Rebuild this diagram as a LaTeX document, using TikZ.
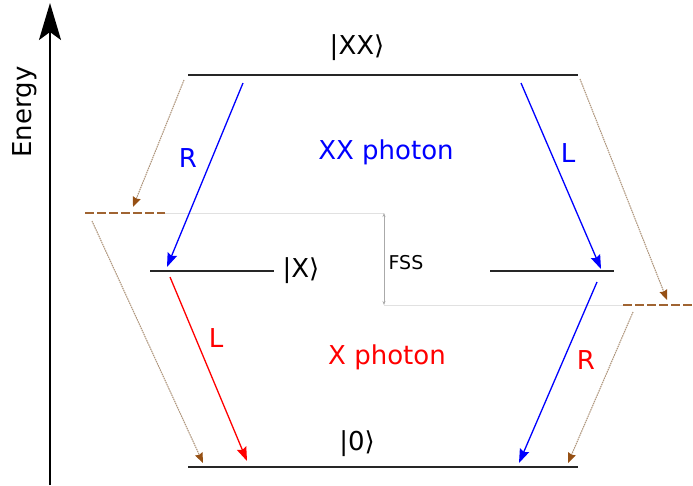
\documentclass[tikz,border=0pt]{standalone}
\usepackage{fontspec}
\setmainfont{DejaVu Sans}
\usetikzlibrary{arrows.meta}

\definecolor{tanline}{RGB}{175,150,125}
\definecolor{brownhead}{RGB}{150,80,20}
\definecolor{dashbrown}{RGB}{160,100,50}
\definecolor{fssline}{RGB}{225,225,225}
\definecolor{fssarrow}{RGB}{170,170,170}

\begin{document}
\begin{tikzpicture}[
    x=1pt, y=-1pt,
    font=\fontsize{26}{30}\selectfont,
    level/.style={
        draw,
        line width=2pt,
        color=black!85
    },
    axis/.style={
        draw,
        line width=2.3pt,
        -{Stealth[length=37pt,width=22pt,inset=8pt]}
    },
    photon/.style={
        draw,
        line width=1.3pt,
        -{Stealth[length=14pt,width=10pt,inset=2pt]}
    },
    decay/.style={
        draw,
        line width=1.1pt,
        dash pattern=on 1.5pt off 0.8pt,
        color=tanline,
        -{Stealth[length=10pt,width=8pt,inset=1pt,color=brownhead]}
    },
    virtual/.style={
        draw,
        line width=2pt,
        dash pattern=on 9pt off 3pt,
        color=dashbrown
    },
    guide/.style={
        draw,
        line width=1pt,
        color=fssline
    },
    split/.style={
        draw,
        line width=1pt,
        color=fssarrow,
        {Stealth[length=4pt,width=3pt]}-{Stealth[length=4pt,width=3pt]}
    }
]
    \useasboundingbox (0,0) rectangle (693,485);

    % --- Energy axis ---
    \coordinate (ebot) at (50,485);
    \coordinate (etop) at (50,3);
    \path [axis] (ebot) -- (etop);
    \node [rotate=90] (energy) at (25,112) {Energy};

    % --- Levels ---
    \coordinate (xxL) at (188,75);
    \coordinate (xxR) at (578,75);
    \coordinate (xaL) at (150,271);
    \coordinate (xaR) at (274,271);
    \coordinate (xbL) at (490,271);
    \coordinate (xbR) at (614,271);
    \coordinate (gL) at (188,467);
    \coordinate (gR) at (578,467);
    \path [level] (xxL) -- (xxR);
    \path [level] (xaL) -- (xaR);
    \path [level] (xbL) -- (xbR);
    \path [level] (gL) -- (gR);

    \node (xxlab) at (357,48) {|XX⟩};
    \node [anchor=west] (xlab) at (279,271) {|X⟩};
    \node (glab) at (357,444) {|0⟩};

    % virtual levels (dashed) and FSS guides
    \coordinate (vaL) at (85,213);
    \coordinate (vaR) at (165,213);
    \coordinate (vbL) at (623,305);
    \coordinate (vbR) at (693,305);
    \coordinate (fssTop) at (384,213);
    \coordinate (fssBot) at (384,305);
    \path [guide] (vaR) -- (fssTop);
    \path [guide] (fssBot) -- (vbL);
    \path [split] (fssTop) -- (fssBot);
    \path [virtual] (vaL) -- (vaR);
    \path [virtual] (vbL) -- (vbR);
    \node [font=\fontsize{19}{22}\selectfont] (fss) at (406,263) {FSS};

    % --- Photon transitions ---
    \coordinate (r1s) at (243,83);
    \coordinate (r1e) at (167,267);
    \coordinate (l1s) at (521,83);
    \coordinate (l1e) at (601,269);
    \coordinate (l2s) at (170,277);
    \coordinate (l2e) at (247,461);
    \coordinate (r2s) at (597,282);
    \coordinate (r2e) at (519,463);
    \path [photon, blue] (r1s) -- (r1e);
    \path [photon, blue] (l1s) -- (l1e);
    \path [photon, red] (l2s) -- (l2e);
    \path [photon, blue] (r2s) -- (r2e);

    \node [blue] (rxx) at (188,158) {R};
    \node [blue] (lxx) at (568,153) {L};
    \node [blue] (xxph) at (386,152) {XX photon};
    \node [red] (lx) at (216,338) {L};
    \node [red] (rx) at (586,360) {R};
    \node [red] (xph) at (387,357) {X photon};

    % --- Thin decay paths ---
    \coordinate (d1s) at (184,80);
    \coordinate (d1e) at (133,207);
    \coordinate (d2s) at (580,79);
    \coordinate (d2e) at (667,300);
    \coordinate (d3s) at (92,221);
    \coordinate (d3e) at (203,463);
    \coordinate (d4s) at (633,312);
    \coordinate (d4e) at (568,463);
    \path [decay] (d1s) -- (d1e);
    \path [decay] (d2s) -- (d2e);
    \path [decay] (d3s) -- (d3e);
    \path [decay] (d4s) -- (d4e);

\end{tikzpicture}
\end{document}
